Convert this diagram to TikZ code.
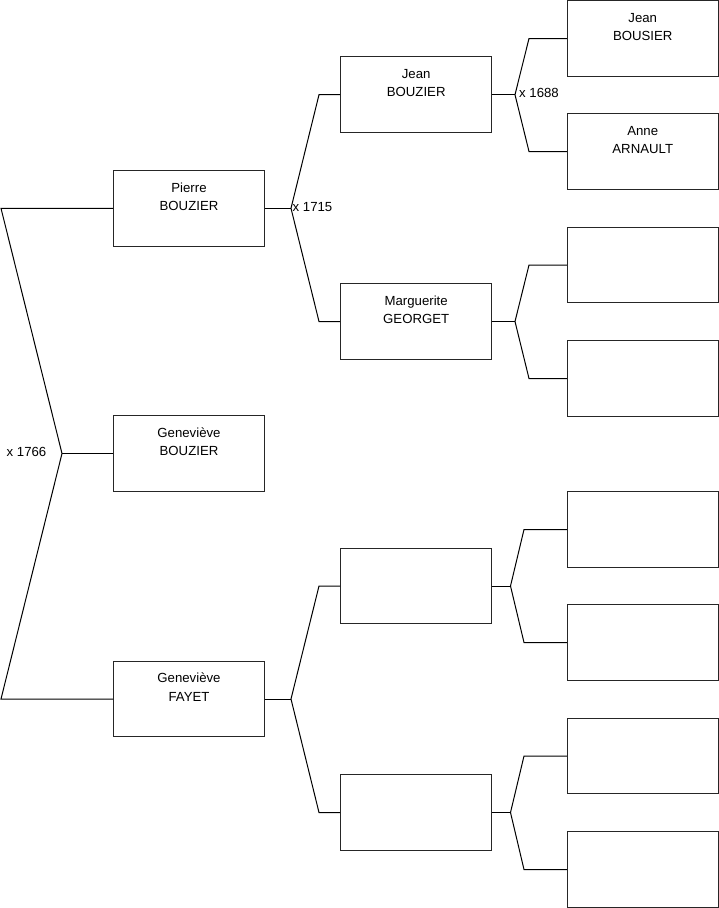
\documentclass[tikz,border=0pt]{standalone}
\usepackage{fontspec}
\setmainfont{Liberation Sans}
\begin{document}
\begin{tikzpicture}[x=1pt,y=-1pt,
  box/.style={draw=black!85,line width=1pt,minimum width=151pt,minimum height=75.5pt,inner sep=0pt},
  nm/.style={font=\fontsize{13.2}{15}\selectfont,anchor=base,inner sep=0pt},
  lbl/.style={font=\fontsize{13.2}{15}\selectfont,anchor=base west,inner sep=0pt},
  con/.style={draw=black,line width=1pt}]
\useasboundingbox (0,0) rectangle (719,908);
% column 1
\node[box] (p) at (189,208.3) {};
\node[box] (g) at (189,453.5) {};
\node[box] (f) at (189,699) {};
% column 2
\node[box] (j) at (416.2,94.7) {};
\node[box] (m) at (416.2,321.5) {};
\node[box] (e1) at (416.2,586) {};
\node[box] (e2) at (416.2,812.5) {};
% column 3
\node[box] (c1) at (642.75,38.5) {};
\node[box] (c2) at (642.75,151.5) {};
\node[box] (c3) at (642.75,265) {};
\node[box] (c4) at (642.75,378.5) {};
\node[box] (c5) at (642.75,529.5) {};
\node[box] (c6) at (642.75,642.5) {};
\node[box] (c7) at (642.75,756) {};
\node[box] (c8) at (642.75,869.5) {};
% names
\node[nm] (p1) at ([yshift=-22pt]p.north) {Pierre};
\node[nm] (p2) at ([yshift=-40.5pt]p.north) {BOUZIER};
\node[nm] (g1) at ([yshift=-22pt]g.north) {Geneviève};
\node[nm] (g2) at ([yshift=-40.5pt]g.north) {BOUZIER};
\node[nm] (f1) at ([yshift=-22pt]f.north) {Geneviève};
\node[nm] (f2) at ([yshift=-40.5pt]f.north) {FAYET};
\node[nm] (j1) at ([yshift=-22pt]j.north) {Jean};
\node[nm] (j2) at ([yshift=-40.5pt]j.north) {BOUZIER};
\node[nm] (m1) at ([yshift=-22pt]m.north) {Marguerite};
\node[nm] (m2) at ([yshift=-40.5pt]m.north) {GEORGET};
\node[nm] (a1) at ([yshift=-22pt]c1.north) {Jean};
\node[nm] (a2) at ([yshift=-40.5pt]c1.north) {BOUSIER};
\node[nm] (b1) at ([yshift=-22pt]c2.north) {Anne};
\node[nm] (b2) at ([yshift=-40.5pt]c2.north) {ARNAULT};
% fork points
\coordinate (L0) at (62,453.5);
\coordinate (L1) at (1,208.3);
\coordinate (L2) at (1,699);
\coordinate (P0) at (291,208.3);
\coordinate (P1) at (319,94.7);
\coordinate (P2) at (319,321.5);
\coordinate (F0) at (291,699);
\coordinate (F1) at (319,586);
\coordinate (F2) at (319,812.5);
\coordinate (J0) at (515,94.7);
\coordinate (J1) at (529,38.5);
\coordinate (J2) at (529,151.5);
\coordinate (M0) at (515,321.5);
\coordinate (M1) at (529,265);
\coordinate (M2) at (529,378.5);
\coordinate (E0) at (510.5,586);
\coordinate (E1) at (524,529.5);
\coordinate (E2) at (524,642.5);
\coordinate (H0) at (510.5,812.5);
\coordinate (H1) at (524,756);
\coordinate (H2) at (524,869.5);
% connectors
\draw[con] (p.west) -- (L1) -- (L0) -- (L2) -- (f.west);
\draw[con] (L0) -- (g.west);
\draw[con] (j.west) -- (P1) -- (P0) -- (P2) -- (m.west);
\draw[con] (P0) -- (p.east);
\draw[con] (e1.west) -- (F1) -- (F0) -- (F2) -- (e2.west);
\draw[con] (F0) -- (f.east);
\draw[con] (c1.west) -- (J1) -- (J0) -- (J2) -- (c2.west);
\draw[con] (J0) -- (j.east);
\draw[con] (c3.west) -- (M1) -- (M0) -- (M2) -- (c4.west);
\draw[con] (M0) -- (m.east);
\draw[con] (c5.west) -- (E1) -- (E0) -- (E2) -- (c6.west);
\draw[con] (E0) -- (e1.east);
\draw[con] (c7.west) -- (H1) -- (H0) -- (H2) -- (c8.west);
\draw[con] (H0) -- (e2.east);
% marriage labels
\node[lbl] (x1) at (6.5,456) {x 1766};
\node[lbl] (x2) at (292.5,211.5) {x 1715};
\node[lbl] (x3) at (519,97.5) {x 1688};
\end{tikzpicture}
\end{document}
